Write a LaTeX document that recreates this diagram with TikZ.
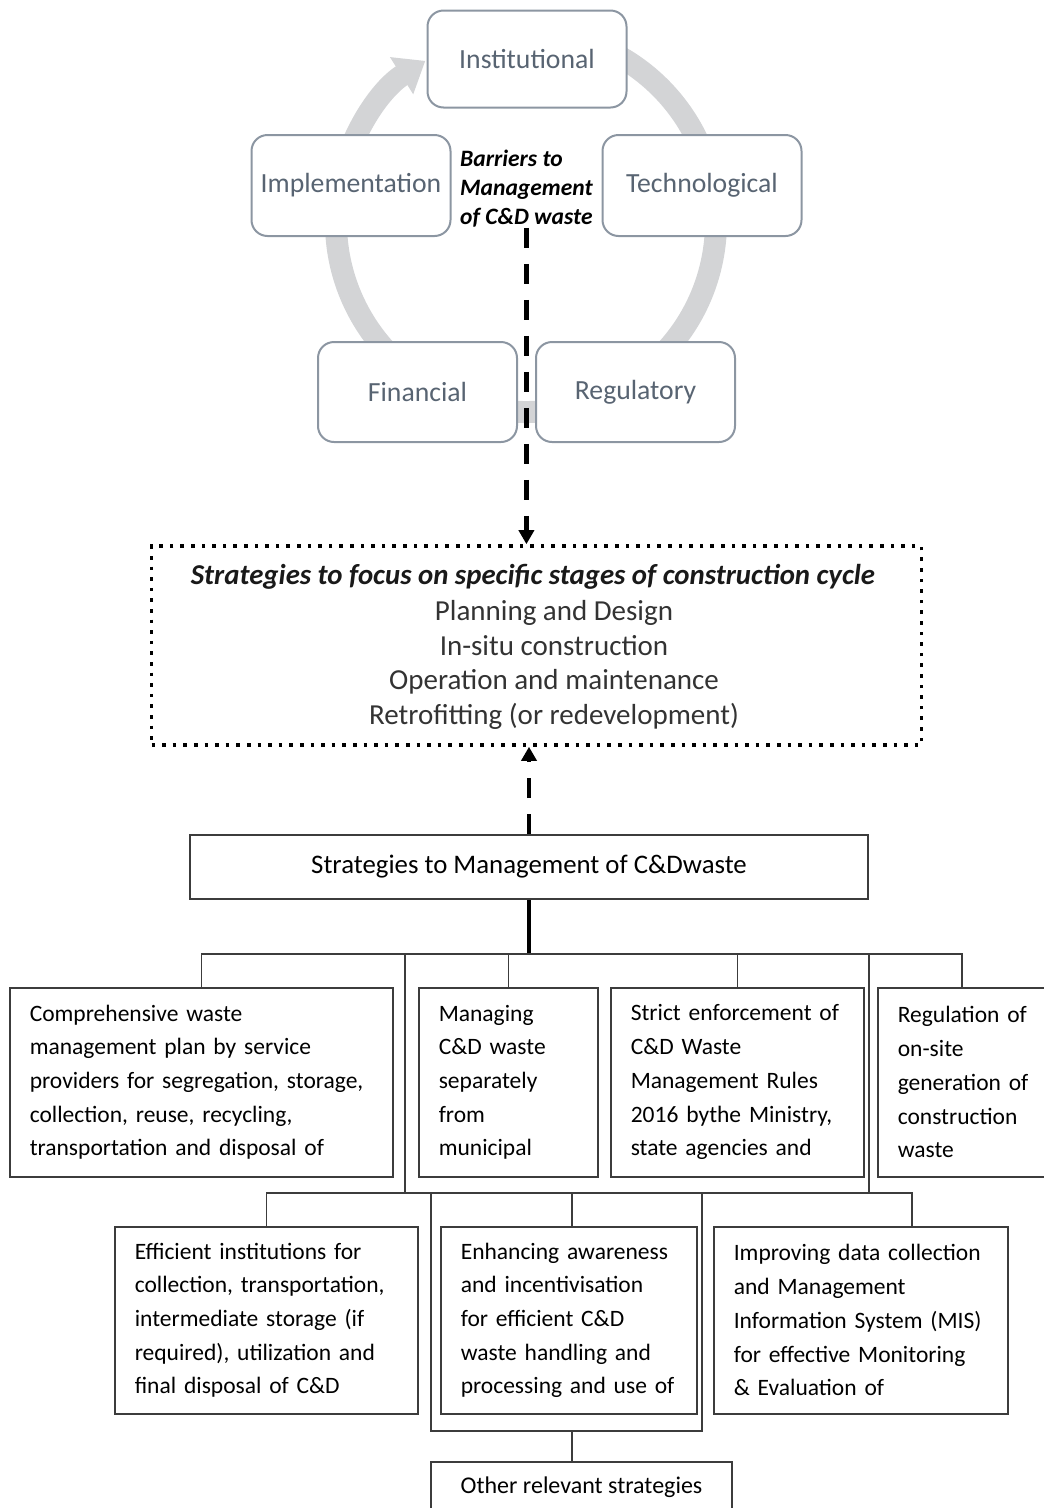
\documentclass[tikz,border=0pt]{standalone}
\usepackage{fontspec}
\setmainfont{Carlito}
\usepackage{tikz}
\usetikzlibrary{arrows.meta,calc,positioning}
\definecolor{ringgray}{RGB}{211,212,214}
\definecolor{cycedge}{RGB}{140,150,162}
\definecolor{cyctext}{RGB}{88,100,114}
\definecolor{treeline}{RGB}{60,60,60}

\begin{document}
\begin{tikzpicture}[x=1pt,y=-1pt,
  cyc/.style={draw=cycedge,line width=2pt,rounded corners=16pt,fill=white,minimum width=199pt,minimum height=97pt,text=cyctext,font=\fontsize{27.7}{32}\selectfont},
  sbox/.style={draw=treeline,line width=1.6pt,fill=white,anchor=north west,align=left,inner xsep=20pt,inner ysep=0pt,font=\fontsize{23.5}{33.7}\selectfont},
  conn/.style={draw=treeline,line width=1.6pt},
  dasharrow/.style={line width=4.3pt,dash pattern=on 20pt off 16pt,-{Triangle[length=14pt,width=15pt]}}]
  \useasboundingbox (0,0) rectangle (1044,1508);
  \clip (0,0) rectangle (1044,1508);
  % cycle of barriers
  \draw[ringgray,line width=22pt,-{Triangle[length=28pt,width=42pt]}] ($(526,222)+(-80:190)$) arc[start angle=-80,end angle=238,radius=190];
  \node[cyc] (inst) at (527,59) {Institutional};
  \node[cyc,minimum height=101pt] (impl) at (351,185.5) {Implementation};
  \node[cyc,minimum height=101pt] (tech) at (702,185.5) {Technological};
  \node[cyc,minimum height=100pt] (fina) at (417.5,392) {Financial};
  \node[cyc,minimum height=100pt] (regu) at (635.5,392) {Regulatory};
  \node[anchor=west,align=left,inner sep=0pt,font=\fontsize{23.5}{29}\selectfont\bfseries\itshape] (barr) at (460,189) {Barriers to\\Management\\of C\&D waste};
  % construction cycle stages
  \node[draw,line width=3.6pt,dash pattern=on 3.6pt off 7pt,minimum width=770pt,minimum height=199pt] (stages) at (536.5,645.5) {};
  \node[font=\fontsize{28.8}{32}\selectfont\bfseries\itshape,text=black!90] (head) at (533,577) {Strategies to focus on specific stages of construction cycle};
  \node[align=center,font=\fontsize{29}{34.7}\selectfont,text=black!80] (list) at (554,665) {Planning and Design\\In-situ construction\\Operation and maintenance\\Retrofitting (or redevelopment)};
  \draw[dasharrow] (barr.south) -- (barr.south |- stages.north);
  % strategies tree
  \node[draw=treeline,line width=2pt,minimum width=678pt,minimum height=64pt,font=\fontsize{26.8}{32}\selectfont] (mgmt) at (529,867) {Strategies to Management of C\&Dwaste};
  \draw[dasharrow] (mgmt.north) -- (mgmt.north |- stages.south);
  \node[sbox,text width=343pt,minimum height=189pt] (plan) at (9,987) {Comprehensive waste\\management plan by service\\providers for segregation, storage,\\collection, reuse, recycling,\\transportation and disposal of};
  \node[sbox,text width=139pt,minimum height=189pt] (sepa) at (418,987) {Managing\\C\&D waste\\separately\\from\\municipal};
  \node[sbox,text width=213pt,minimum height=189pt] (enfo) at (610,987) {Strict enforcement of\\C\&D Waste\\Management Rules\\2016 bythe Ministry,\\state agencies and};
  \node[sbox,text width=150pt,minimum height=189pt] (regs) at (877,987) {Regulation of\\on-site\\generation of\\construction\\waste};
  \node[sbox,text width=263pt,minimum height=187pt] (effi) at (114,1226) {Efficient institutions for\\collection, transportation,\\intermediate storage (if\\required), utilization and\\final disposal of C\&D};
  \node[sbox,text width=216pt,minimum height=187pt] (awar) at (440,1226) {Enhancing awareness\\and incentivisation\\for efficient C\&D\\waste handling and\\processing and use of};
  \node[sbox,text width=254pt,minimum height=187pt] (data) at (713,1226) {Improving data collection\\and Management\\Information System (MIS)\\for effective Monitoring\\\& Evaluation of};
  \node[draw=treeline,line width=1.6pt,minimum width=301pt,minimum height=50pt,font=\fontsize{24}{28}\selectfont] (other) at (581.5,1487) {Other relevant strategies};
  \coordinate (barA) at (529,954);
  \coordinate (dropA) at (962,954);
  \coordinate (gapL) at (405,954);
  \coordinate (gapR) at (869,954);
  \coordinate (barB) at (0,1193);
  \coordinate (dropM) at (572,1193);
  \coordinate (dropR) at (912,1193);
  \coordinate (brkL) at (431,1193);
  \coordinate (brkR) at (702,1193);
  \coordinate (brkB) at (0,1431);
  \draw[line width=4pt] (mgmt.south) -- (mgmt.south |- barA);
  \draw[conn] (plan.north) |- (dropA) -- (dropA |- regs.north);
  \draw[conn] (sepa.north) -- (sepa.north |- barA);
  \draw[conn] (enfo.north) -- (enfo.north |- barA);
  \draw[conn] (gapL) -- (gapL |- barB);
  \draw[conn] (gapR) -- (gapR |- barB);
  \draw[conn] (effi.north) |- (dropR) -- (dropR |- data.north);
  \draw[conn] (dropM) -- (dropM |- awar.north);
  \draw[conn] (brkL) |- (brkR |- brkB) -- (brkR);
  \draw[conn] (dropM |- brkB) -- (dropM |- other.north);
\end{tikzpicture}
\end{document}
